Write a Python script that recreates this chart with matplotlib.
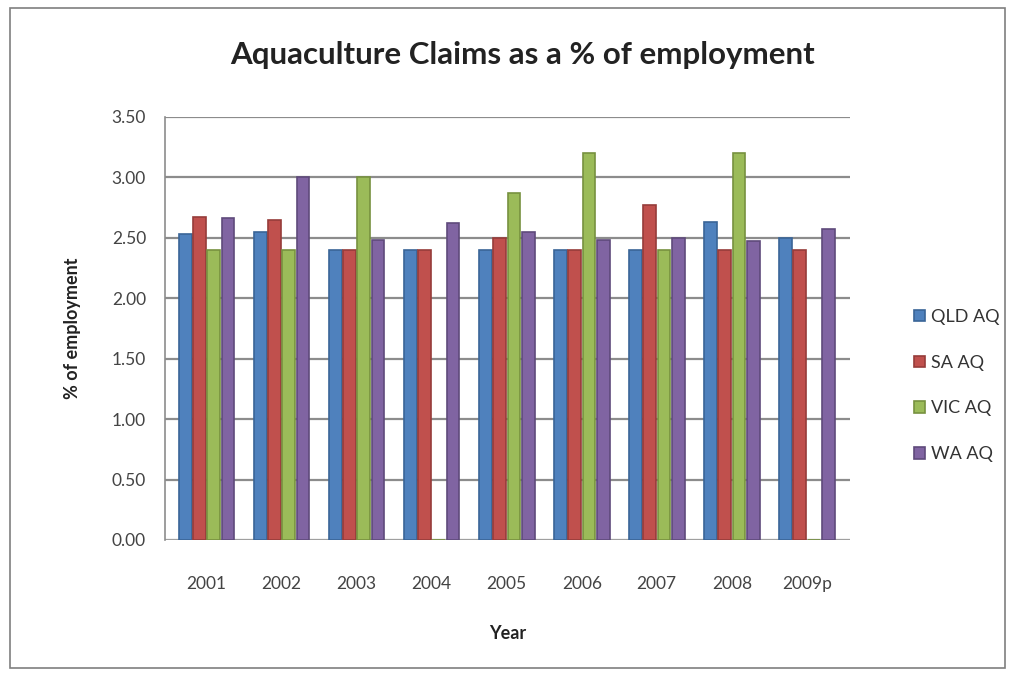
import matplotlib
matplotlib.use("Agg")
import matplotlib.pyplot as plt
import numpy as np
from matplotlib.patches import Rectangle

years = ["2001", "2002", "2003", "2004", "2005", "2006", "2007", "2008", "2009p"]
qld = [2.53, 2.55, 2.40, 2.40, 2.40, 2.40, 2.40, 2.63, 2.50]
sa = [2.67, 2.65, 2.40, 2.40, 2.50, 2.40, 2.77, 2.40, 2.40]
vic = [2.40, 2.40, 3.00, 0.00, 2.87, 3.20, 2.40, 3.20, 0.00]
wa = [2.66, 3.00, 2.48, 2.62, 2.55, 2.48, 2.50, 2.47, 2.57]
series_names = ["QLD AQ", "SA AQ", "VIC AQ", "WA AQ"]
yticks = [0.0, 0.5, 1.0, 1.5, 2.0, 2.5, 3.0, 3.5]

colors = ["#4F81BD", "#C0504D", "#9BBB59", "#8064A2"]
edges = ["#3A6597", "#963C3A", "#77913F", "#5F4A7B"]

plt.rcParams['font.family'] = ['Lato', 'DejaVu Sans']

fig = plt.figure(figsize=(10.15, 6.75), dpi=100)
ax = fig.add_axes([0.163, 0.2, 0.674, 0.627])

x = np.arange(len(years))
offs = [-1.5, -0.5, 0.5, 1.5]
bw = 0.17
step = 0.19
for i, (vals, c, e, name) in enumerate(zip([qld, sa, vic, wa], colors, edges, series_names)):
    ax.bar(x + offs[i] * step, vals, width=bw, color=c, edgecolor=e, linewidth=1.2,
           label=name, zorder=3)

ax.set_xlim(-0.55, 8.57)
ax.set_ylim(0, 3.5)
ax.set_yticks(yticks)
ax.set_yticklabels([f"{v:.2f}" for v in yticks], fontsize=12.5, color="#444444")
ax.set_xticks(x)
ax.set_xticklabels(years, fontsize=12.5, color="#444444")
ax.tick_params(axis='y', length=0, pad=14)
ax.tick_params(axis='x', length=0, pad=26)

ax.grid(axis='y', color="#8C8C8C", linewidth=1.6, zorder=0)
for s in ["top", "right", "bottom"]:
    ax.spines[s].set_visible(False)
ax.spines["left"].set_color("#8C8C8C")
ax.spines["left"].set_linewidth(1.2)
ax.axhline(0, color="#A0A0A0", linewidth=1.4, zorder=2)

ax.set_ylabel("% of employment", fontsize=13, fontweight='bold', color="#222222", labelpad=22)
ax.set_xlabel("Year", fontsize=13, fontweight='bold', color="#222222", labelpad=24)
fig.text(0.515, 0.918, "Aquaculture Claims as a % of employment", ha='center', va='center',
         fontsize=22.5, fontweight='bold', color="#222222")

leg = ax.legend(loc='center left', bbox_to_anchor=(1.07, 0.365), frameon=False,
                fontsize=13, handlelength=0.6, handleheight=0.6, labelspacing=1.65,
                handletextpad=0.35)
for t in leg.get_texts():
    t.set_color("#333333")

fig.patches.append(Rectangle((0.01, 0.01), 0.98, 0.978, transform=fig.transFigure,
                             fill=False, edgecolor="#7F7F7F", linewidth=1.2))

fig.savefig("out.png", dpi=100)
